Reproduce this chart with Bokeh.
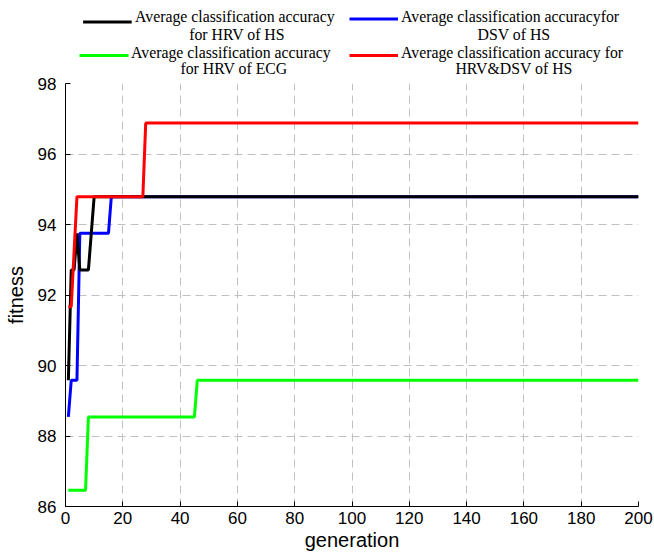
from bokeh.plotting import figure
from bokeh.models import Range1d, FixedTicker
from bokeh.layouts import column
from bokeh.core.properties import value
from bokeh.embed import file_html
from bokeh.resources import INLINE

# ---- data ----
gen_hrv_hs = [1, 2, 3, 4, 5, 8, 10, 200]
acc_hrv_hs = [89.58, 92.71, 92.71, 93.75, 92.71, 92.71, 94.79, 94.79]

gen_dsv_hs = [1, 2, 4, 5, 15, 16, 200]
acc_dsv_hs = [88.54, 89.58, 89.58, 93.75, 93.75, 94.79, 94.79]

gen_hrv_ecg = [1, 7, 8, 45, 46, 200]
acc_hrv_ecg = [86.46, 86.46, 88.54, 88.54, 89.58, 89.58]

gen_both = [1, 2, 4, 27, 28, 200]
acc_both = [91.67, 91.67, 94.79, 94.79, 96.88, 96.88]

x_ticks = [0, 20, 40, 60, 80, 100, 120, 140, 160, 180, 200]
y_ticks = [86, 88, 90, 92, 94, 96, 98]

legend_line1 = ["Average classification accuracy", "Average  classification accuracyfor",
                "Average  classification accuracy", "Average  classification accuracy for"]
legend_line2 = ["for HRV of HS", "DSV of HS", "for HRV of ECG", "HRV&DSV of HS"]
legend_colors = ["#000000", "#0000ff", "#00ff00", "#ff0000"]

# ---- layout (pixels) ----
W = 654
LEG_H = 77
MAIN_H = 556 - LEG_H
FL, FR = 65, 638           # frame left / right (page px)
FT = 6                     # frame top inside main figure  -> page y 83
FB = 506 - LEG_H           # frame bottom inside main figure -> page y 506
LEG_FONT = "15.8px"

# ---------------- legend strip (data units = page pixels) ----------------
leg = figure(width=W, height=LEG_H, output_backend="svg", toolbar_location=None,
             x_range=Range1d(FL, FR), y_range=Range1d(LEG_H, 0),
             x_axis_type=None, y_axis_type=None,
             min_border_left=FL, min_border_right=W - FR, min_border_top=0, min_border_bottom=0)
leg.outline_line_color = None
leg.grid.visible = False

# sample-line (x0, x1, y), first-line (left x, middle y), second-line (center x, middle y)
leg_pos = [
    ((82.6, 131.2, 21.5), (134.5, 16.0), (236.5, 34.0)),
    ((349.0, 397.5, 18.5), (400.5, 16.0), (513.5, 34.0)),
    ((79.0, 128.0, 55.0), (130.5, 51.5), (233.5, 68.0)),
    ((349.0, 397.5, 55.0), (400.5, 51.5), (513.5, 68.0)),
]
leg.segment(x0=[a[0][0] for a in leg_pos], y0=[a[0][2] for a in leg_pos],
            x1=[a[0][1] for a in leg_pos], y1=[a[0][2] for a in leg_pos],
            line_color=legend_colors, line_width=3)
leg.text(x=[a[1][0] for a in leg_pos], y=[a[1][1] for a in leg_pos], text=legend_line1,
         text_align="left", text_baseline="middle", text_font=value("Liberation Serif"),
         text_font_size=LEG_FONT, text_color="black")
leg.text(x=[a[2][0] for a in leg_pos], y=[a[2][1] for a in leg_pos], text=legend_line2,
         text_align="center", text_baseline="middle", text_font=value("Liberation Serif"),
         text_font_size=LEG_FONT, text_color="black")

# ---------------- main chart ----------------
p = figure(width=W, height=MAIN_H, output_backend="svg", toolbar_location=None,
           x_range=Range1d(0, 200), y_range=Range1d(86, 98),
           min_border_left=FL, min_border_right=W - FR, min_border_top=FT,
           min_border_bottom=MAIN_H - FB)
p.outline_line_color = None
p.background_fill_color = "white"

p.line(gen_hrv_ecg, acc_hrv_ecg, line_color=legend_colors[2], line_width=3)
p.line(gen_dsv_hs, acc_dsv_hs, line_color=legend_colors[1], line_width=3)
p.line(gen_hrv_hs, acc_hrv_hs, line_color=legend_colors[0], line_width=3)
p.line(gen_both, acc_both, line_color=legend_colors[3], line_width=3)

for ax in (p.xaxis[0], p.yaxis[0]):
    ax.major_tick_in = 5
    ax.major_tick_out = 0
    ax.minor_tick_line_color = None
    ax.axis_line_color = "black"
    ax.major_tick_line_color = "black"
    ax.major_label_text_font = "Liberation Sans"
    ax.major_label_text_font_size = "17px"
    ax.major_label_text_color = "black"
    ax.axis_label_text_font = "Liberation Sans"
    ax.axis_label_text_font_size = "20px"
    ax.axis_label_text_font_style = "normal"
    ax.axis_label_text_color = "black"

p.xaxis[0].ticker = FixedTicker(ticks=x_ticks)
p.yaxis[0].ticker = FixedTicker(ticks=y_ticks)
p.xaxis[0].axis_label = "generation"
p.yaxis[0].axis_label = "fitness"
p.xaxis[0].major_label_standoff = 5
p.yaxis[0].major_label_standoff = 9
p.xaxis[0].axis_label_standoff = 2
p.yaxis[0].axis_label_standoff = 8

p.grid.grid_line_color = "#c0c0c0"
p.grid.grid_line_dash = "8 5"
p.grid.grid_line_width = 1

layout = column(leg, p, spacing=0)
open("out.html", "w").write(file_html(layout, INLINE))
